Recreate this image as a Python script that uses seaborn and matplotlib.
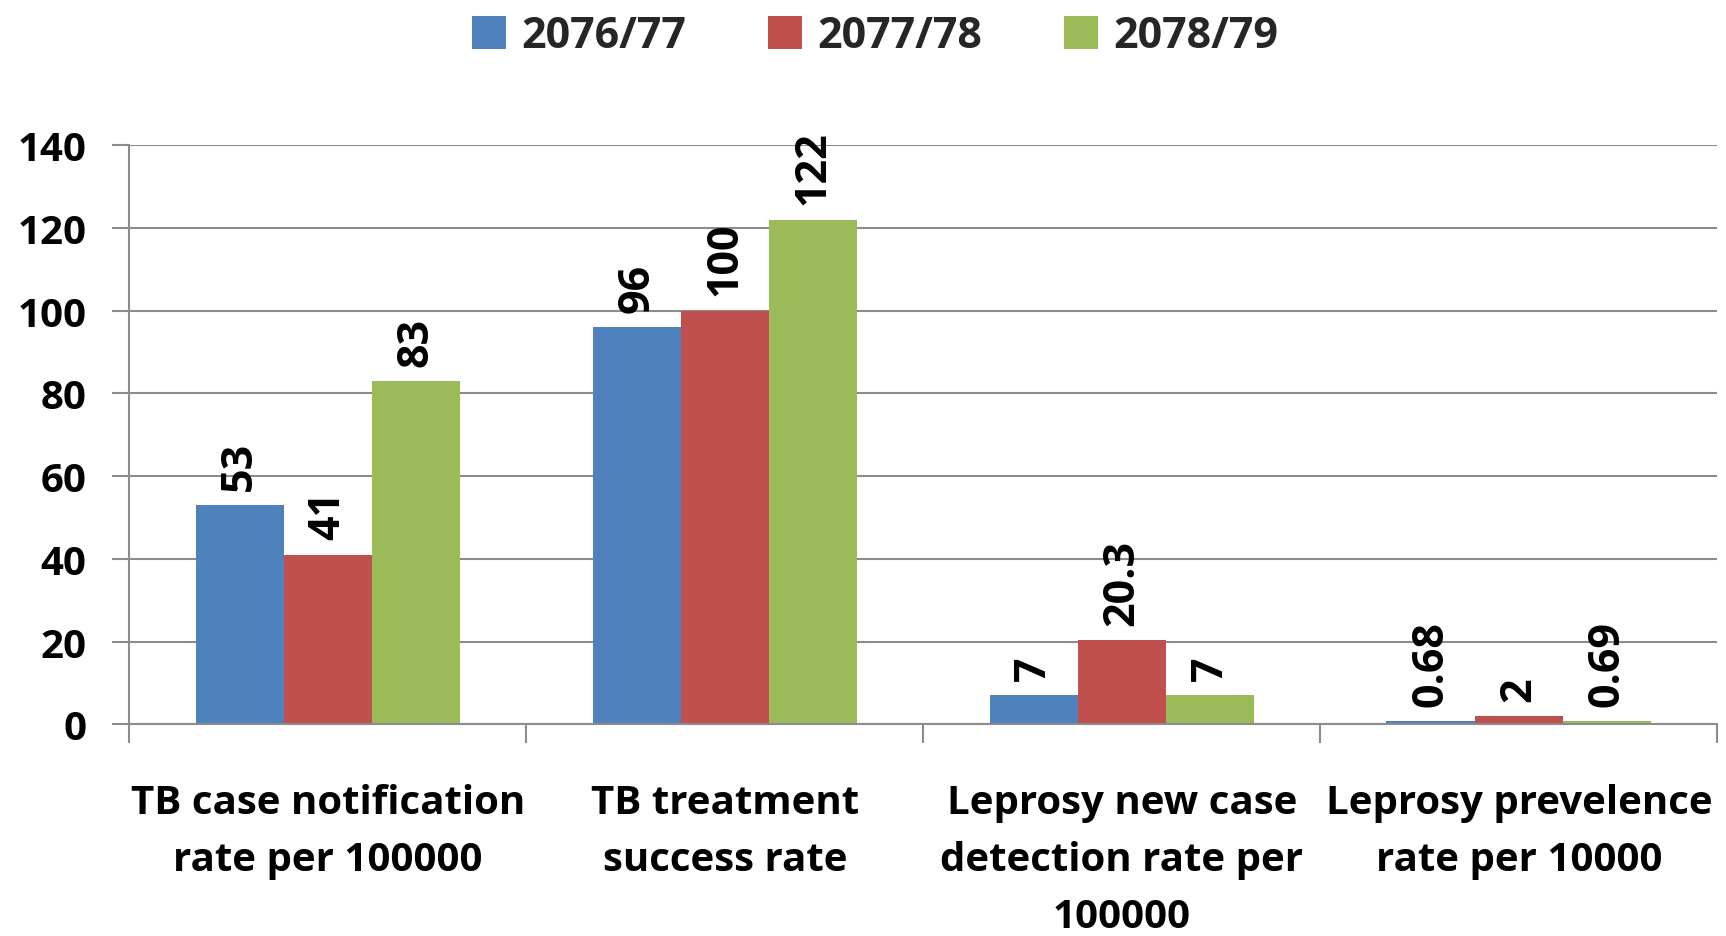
import matplotlib
matplotlib.use("Agg")
import matplotlib.pyplot as plt
import seaborn as sns
import pandas as pd
import numpy as np
from matplotlib.patches import Patch

sns.set_theme(style="white")
plt.rcParams['font.family'] = ['Open Sans', 'DejaVu Sans']
plt.rcParams['font.weight'] = 'bold'

# Data
categories = ["TB case notification\nrate per 100000",
              "TB treatment\nsuccess rate",
              "Leprosy new case\ndetection rate per\n100000",
              "Leprosy prevelence\nrate per 10000"]
years = ["2076/77", "2077/78", "2078/79"]
values_7677 = [53, 96, 7, 0.68]
values_7778 = [41, 100, 20.3, 2]
values_7879 = [83, 122, 7, 0.69]
colors = ["#4F81BD", "#C0504D", "#9BBB59"]

df = pd.DataFrame({
    "category": categories * 3,
    "year": [y for y in years for _ in categories],
    "value": values_7677 + values_7778 + values_7879,
})

fig = plt.figure(figsize=(17.26, 9.37), dpi=100)
ax = fig.add_axes([0.075, 0.226, 0.92, 0.618])

sns.barplot(data=df, x="category", y="value", hue="year", order=categories,
            hue_order=years, palette=colors, width=0.667, saturation=1,
            edgecolor="none", ax=ax, legend=False)

# Value labels
for cont, vals in zip(ax.containers, [values_7677, values_7778, values_7879]):
    ax.bar_label(cont, labels=[f"{v:g}" for v in vals], rotation=90,
                 padding=11, fontsize=31, fontweight='bold', color='black')

ax.set_ylim(0, 140)
ax.set_yticks(np.arange(0, 141, 20))
ax.set_xlim(-0.5, 3.5)
ax.set_xlabel("")
ax.set_ylabel("")

ax.yaxis.grid(True, color="#8c8c8c", linewidth=1.5)
ax.set_axisbelow(True)
for s in ["top", "right"]:
    ax.spines[s].set_visible(False)
for s in ["left", "bottom"]:
    ax.spines[s].set_color("#8c8c8c")
    ax.spines[s].set_linewidth(1.5)

ax.tick_params(axis='y', which='major', length=12, width=1.5, color="#8c8c8c",
               labelsize=29, pad=19, left=True)
ax.tick_params(axis='x', which='major', length=0, labelsize=29, pad=42)
ax.set_xticks(np.arange(-0.5, 3.6, 1), minor=True)
ax.tick_params(axis='x', which='minor', length=14, width=1.5, color="#8c8c8c",
               bottom=True)
for lab in ax.get_xticklabels() + ax.get_yticklabels():
    lab.set_fontweight('bold')
    lab.set_color('black')
for lab in ax.get_xticklabels():
    lab.set_linespacing(1.6)
    lab.set_verticalalignment('top')

handles = [Patch(facecolor=c, edgecolor='none') for c in colors]
fig.legend(handles, years, loc='upper center', bbox_to_anchor=(0.507, 1.025),
           ncol=3, frameon=False, prop={'size': 31, 'weight': 'bold'},
           handlelength=0.8, handleheight=0.8, handletextpad=0.35,
           columnspacing=1.9)

fig.savefig("out.png", dpi=100)
